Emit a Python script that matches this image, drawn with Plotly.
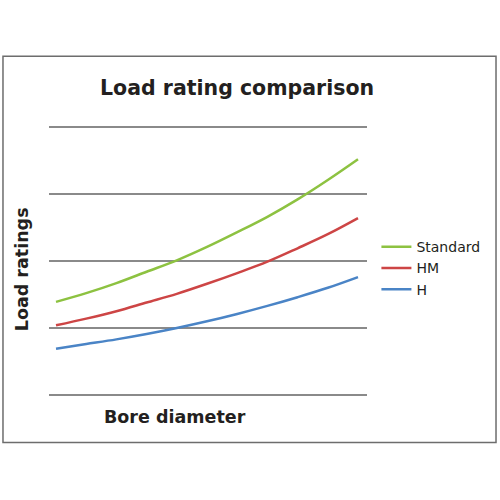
import plotly.graph_objects as go

# Load rating curves (relative units, gridline spacing = 1)
bore = [0, 1, 2, 3, 4, 5, 6, 7, 8, 9, 10]
standard = [1.39, 1.52, 1.67, 1.84, 2.01, 2.21, 2.43, 2.66, 2.92, 3.21, 3.52]
hm = [1.04, 1.14, 1.25, 1.38, 1.51, 1.66, 1.82, 1.99, 2.19, 2.40, 2.64]
h = [0.69, 0.76, 0.83, 0.91, 1.00, 1.10, 1.21, 1.33, 1.46, 1.60, 1.76]

series = [
    ("Standard", standard, "#8DC241"),
    ("HM", hm, "#CD4545"),
    ("H", h, "#4A84C6"),
]

fig = go.Figure()
for name, vals, color in series:
    fig.add_trace(go.Scatter(
        x=bore, y=vals, name=name, mode="lines",
        line=dict(color=color, width=2.5, shape="spline"),
    ))

bold = dict(family="DejaVu Sans", color="#231f20")

fig.update_layout(
    width=500, height=500,
    margin=dict(l=49, r=133, t=125, b=102.5),
    paper_bgcolor="white", plot_bgcolor="white",
    showlegend=True,
    font=dict(family="DejaVu Sans", size=14, color="#231f20"),
    xaxis=dict(range=[-0.232, 10.298], showgrid=False, zeroline=False,
               showticklabels=False, showline=False, ticks=""),
    # padded a little so the gridlines at 0 and 4 are not clipped
    yaxis=dict(range=[-0.03, 4.03], dtick=1, showgrid=True, gridcolor="#8a8a8a",
               gridwidth=1.5, zeroline=False, showticklabels=False,
               showline=False, ticks=""),
    legend=dict(x=1.0296, y=0.6095, xanchor="left", yanchor="top",
                font=dict(size=14), tracegroupgap=0, itemwidth=30,
                bgcolor="rgba(0,0,0,0)"),
    shapes=[dict(type="rect", xref="paper", yref="paper",
                 x0=-0.1447, x1=1.4057, y0=-0.167, y1=1.2532,
                 line=dict(color="#6d6d6d", width=1.5), layer="below")],
    annotations=[
        dict(text="<b>Load rating comparison</b>", xref="paper", yref="paper",
             x=0.59, y=1.1376, xanchor="center", yanchor="middle",
             showarrow=False, font=dict(size=20.5, **bold)),
        dict(text="<b>Bore diameter</b>", xref="paper", yref="paper",
             x=0.396, y=-0.0752, xanchor="center", yanchor="middle",
             showarrow=False, font=dict(size=17.5, **bold)),
        dict(text="<b>Load ratings</b>", xref="paper", yref="paper",
             x=-0.0849, y=0.4697, xanchor="center", yanchor="middle",
             showarrow=False, textangle=-90, font=dict(size=17.5, **bold)),
    ],
)

fig.write_html("out.html", config={"displayModeBar": False},
               post_script="document.body.style.margin='0px';")
